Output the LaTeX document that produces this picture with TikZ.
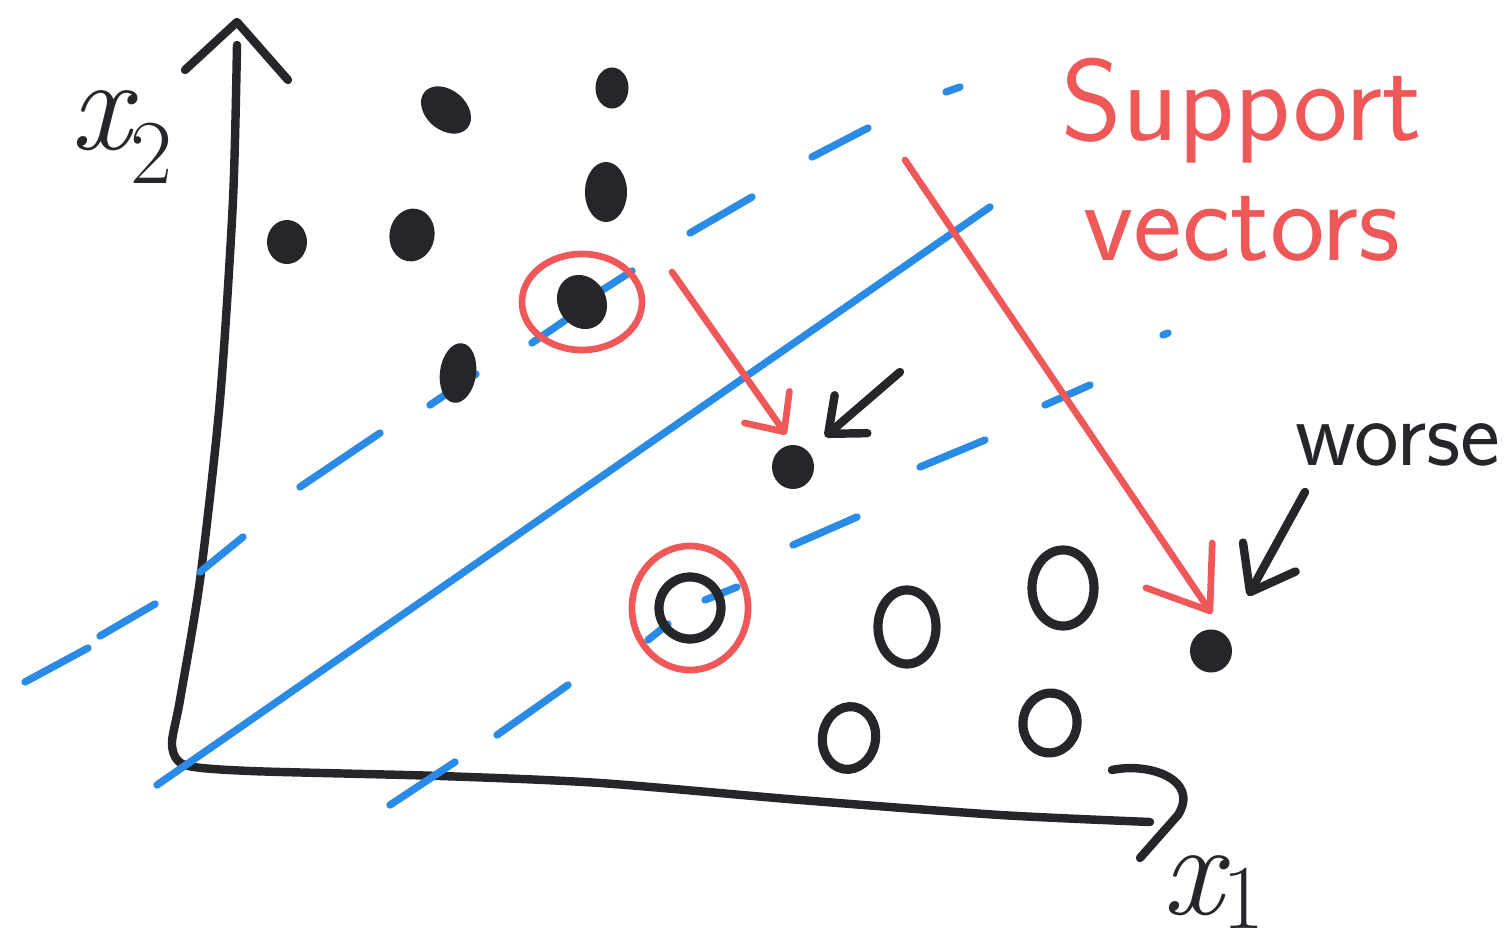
\documentclass[tikz,border=0pt]{standalone}
\usepackage{fontspec}
\usetikzlibrary{arrows.meta,shapes.geometric}
\definecolor{ink}{HTML}{25262A}
\definecolor{sky}{HTML}{2A8BE6}
\definecolor{pen}{HTML}{EF5858}
\begin{document}
\begin{tikzpicture}[x=0.01cm,y=-0.01cm,
    axis/.style={line width=2.4pt,ink,line cap=round,line join=round},
    sep/.style={line width=2.1pt,sky,line cap=round},
    ring/.style={line width=1.9pt,pen},
    dot/.style={ellipse,fill=ink,inner sep=0pt},
    hollow/.style={ellipse,draw=ink,line width=2.6pt,inner sep=0pt},
    redarrow/.style={line width=1.9pt,pen,line cap=round,line join=round},
    inkarrow/.style={line width=2.4pt,ink,line cap=round,line join=round},
    axlabel/.style={anchor=base west,ink,font=\fontsize{38}{38}\selectfont\itshape}]
  \useasboundingbox (0,0) rectangle (1505,946);

  % Axes
  \draw[axis] plot[smooth,tension=0.45] coordinates {(237,45) (233,200)
    (220,400) (200,580) (180,700) (172,745) (185,765) (250,771)
    (440,776) (600,783) (800,800) (1000,815) (1150,822)};
  \draw[axis] (185,70) -- (237,22) -- (288,80);
  \draw[axis] (1112,770) .. controls (1150,762) and (1200,780) .. (1178,815) -- (1140,858);
  \node[axlabel] (ylabel) at (58,150) {x\raisebox{-0.25em}{\fontsize{26}{26}\selectfont\upshape 2}};
  \node[axlabel] (xlabel) at (1150,915) {x\raisebox{-0.1em}{\fontsize{26}{26}\selectfont\upshape 1}};

  % Separating line and margins
  \draw[sep] (157,785) -- (990,207);
  \foreach \xa/\ya/\xb/\yb in {25/682/88/648, 100/636/155/604, 200/572/243/537,
      300/487/380/433, 430/405/476/374, 532/343/570/317, 590/298/632/271,
      690/233/752/197, 812/157/868/128, 946/92/960/87}
    \draw[sep] (\xa,\ya) -- (\xb,\yb);
  \foreach \xa/\ya/\xb/\yb in {390/805/455/762, 497/735/568/685, 648/640/668/624,
      705/600/737/587, 793/545/857/517, 920/467/985/440, 1045/405/1090/385,
      1163/335/1168/333}
    \draw[sep] (\xa,\ya) -- (\xb,\yb);

  % Upper class (filled)
  \node[dot,minimum width=0.56cm,minimum height=0.40cm,rotate=-40] (pA) at (446,110) {};
  \node[dot,minimum width=0.33cm,minimum height=0.41cm] (pB) at (612,88) {};
  \node[dot,minimum width=0.42cm,minimum height=0.60cm] (pC) at (606,192) {};
  \node[dot,minimum width=0.40cm,minimum height=0.44cm] (pD) at (287,242) {};
  \node[dot,minimum width=0.45cm,minimum height=0.53cm,rotate=-10] (pE) at (412,235) {};
  \node[dot,minimum width=0.48cm,minimum height=0.56cm,rotate=30] (pF) at (582,302) {};
  \node[dot,minimum width=0.36cm,minimum height=0.60cm,rotate=-8] (pG) at (458,373) {};
  \node[dot,minimum width=0.42cm,minimum height=0.44cm] (wA) at (793,467) {};
  \node[dot,minimum width=0.42cm,minimum height=0.43cm] (wB) at (1211,651) {};

  % Lower class (open)
  \node[hollow,minimum width=0.62cm,minimum height=0.62cm,rotate=30] (qA) at (690,608) {};
  \node[hollow,minimum width=0.58cm,minimum height=0.74cm] (qB) at (907,627) {};
  \node[hollow,minimum width=0.62cm,minimum height=0.76cm] (qC) at (1063,588) {};
  \node[hollow,minimum width=0.53cm,minimum height=0.63cm,rotate=-10] (qD) at (849,738) {};
  \node[hollow,minimum width=0.54cm,minimum height=0.60cm,rotate=-8] (qE) at (1050,723) {};

  % Support vectors
  \draw[ring] (pF) ellipse [x radius=0.60cm,y radius=0.48cm];
  \draw[ring] (qA) ellipse [x radius=0.58cm,y radius=0.62cm];
  \node[pen,align=center,font=\sffamily\fontsize{33}{34}\selectfont] (svlabel) at (1242,160) {Support\\vectors};
  \coordinate (tailA) at (672,272);
  \coordinate (tailB) at (905,160);
  \draw[redarrow,-{Straight Barb[length=0.3cm,width=0.55cm,round]},shorten >=0.12cm] (tailA) -- (wA.north);
  \draw[redarrow,-{Straight Barb[length=0.55cm,width=0.8cm,round]},shorten >=0.26cm] (tailB) -- (wB.north east);

  % Worse points
  \node[ink,font=\sffamily\fontsize{27}{27}\selectfont,anchor=base] (worse) at (1398,466) {worse};
  \coordinate (tailC) at (900,372);
  \coordinate (tailD) at (1305,492);
  \draw[inkarrow,-{Straight Barb[length=0.3cm,width=0.5cm,round]},shorten >=0.22cm] (tailC) -- (wA.north east);
  \draw[inkarrow,-{Straight Barb[length=0.4cm,width=0.6cm,round]},shorten >=0.45cm] (tailD) -- (wB.north east);
\end{tikzpicture}
\end{document}
